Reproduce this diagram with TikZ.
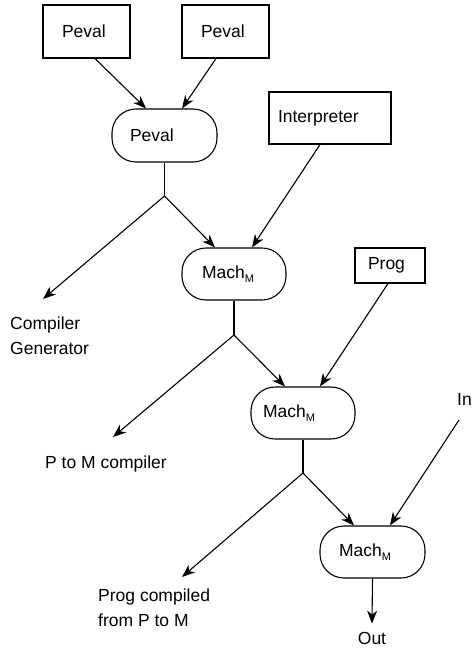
\documentclass[tikz,border=0pt]{standalone}
\usepackage{fontspec}
\setmainfont{Liberation Sans}
\usetikzlibrary{arrows.meta}
\newcommand{\machm}{Mach\raisebox{-0.4ex}{\fontsize{11}{11}\selectfont M}}
\begin{document}
\begin{tikzpicture}[x=1pt,y=-1pt,
 every node/.style={font=\fontsize{17.5}{25}\selectfont},
 line/.style={line width=1.1pt},
 arr/.style={line width=1.1pt,-{Stealth[length=13pt,width=10pt,inset=4pt]}},
 sqbox/.style={draw,line width=1.1pt,inner ysep=0pt,align=left},
 rbox/.style={draw,line width=1.1pt,rounded corners=24pt,inner ysep=0pt,align=left},
 lbl/.style={inner sep=0pt,align=left},
]
\useasboundingbox (0,0) rectangle (473,648);
% boxes
\node[sqbox, minimum height=53pt, text width=49pt, inner xsep=19pt] (p1) at (86.5,31.5) {Peval};
\node[sqbox, minimum height=53pt, text width=49pt, inner xsep=19pt] (p2) at (225.5,31.5) {Peval};
\node[rbox, minimum height=53pt, text width=69pt, inner xsep=18pt] (pe) at (164.5,135.5) {Peval};
\node[sqbox, minimum height=52pt, text width=104pt, inner xsep=9pt] (int) at (330,118) {Interpreter};
\node[rbox, minimum height=52pt, text width=64pt, inner xsep=20pt] (m1) at (234,274) {\raisebox{3pt}{\machm}};
\node[sqbox, minimum height=35pt, text width=44pt, inner xsep=13pt] (prog) at (390,265.5) {\raisebox{2pt}{Prog}};
\node[rbox, minimum height=52pt, text width=80pt, inner xsep=12pt] (m2) at (303,413) {\raisebox{2pt}{\machm}};
\node[rbox, minimum height=52pt, text width=67pt, inner xsep=19pt] (m3) at (372.5,552) {\raisebox{3pt}{\machm}};
% labels
\node[lbl, anchor=north west] (cg) at (10,317) {Compiler\\Generator};
\node[lbl, anchor=north west] (ptm) at (45,456) {P to M compiler};
\node[lbl, anchor=north west] (pc) at (98,589) {Prog compiled\\from P to M};
\node[inner xsep=0pt, inner ysep=8pt] (out) at (372,638) {Out};
\node[lbl, anchor=west] (in) at (457,399) {In};
% coordinates
\coordinate (f1) at (164.5,196);
\coordinate (f2) at (234,335);
\coordinate (f3) at (303,473);
\coordinate (cgtip) at (43,299);
\coordinate (ptmtip) at (113,437);
\coordinate (pctip) at (182,577);
\coordinate (inp) at (459,420);
% connectors
\draw[arr] ([xshift=8.5pt]p1.south) -- ([xshift=-18.5pt]pe.north);
\draw[arr] ([xshift=-9.5pt]p2.south) -- ([xshift=17.5pt]pe.north);
\draw[line] (pe.south) -- (f1);
\draw[arr] (f1) -- (cgtip);
\draw[arr] (f1) -- ([xshift=-19pt]m1.north);
\draw[arr] ([xshift=-10pt]int.south) -- ([xshift=18pt]m1.north);
\draw[line] (m1.south) -- (f2);
\draw[arr] (f2) -- (ptmtip);
\draw[arr] (f2) -- ([xshift=-18pt]m2.north);
\draw[arr] ([xshift=-2pt]prog.south) -- ([xshift=17pt]m2.north);
\draw[line] (m2.south) -- (f3);
\draw[arr] (f3) -- (pctip);
\draw[arr] (f3) -- ([xshift=-18.5pt]m3.north);
\draw[arr] (inp) -- ([xshift=17.5pt]m3.north);
\draw[arr] (m3.south) -- (out.north);
\end{tikzpicture}
\end{document}
